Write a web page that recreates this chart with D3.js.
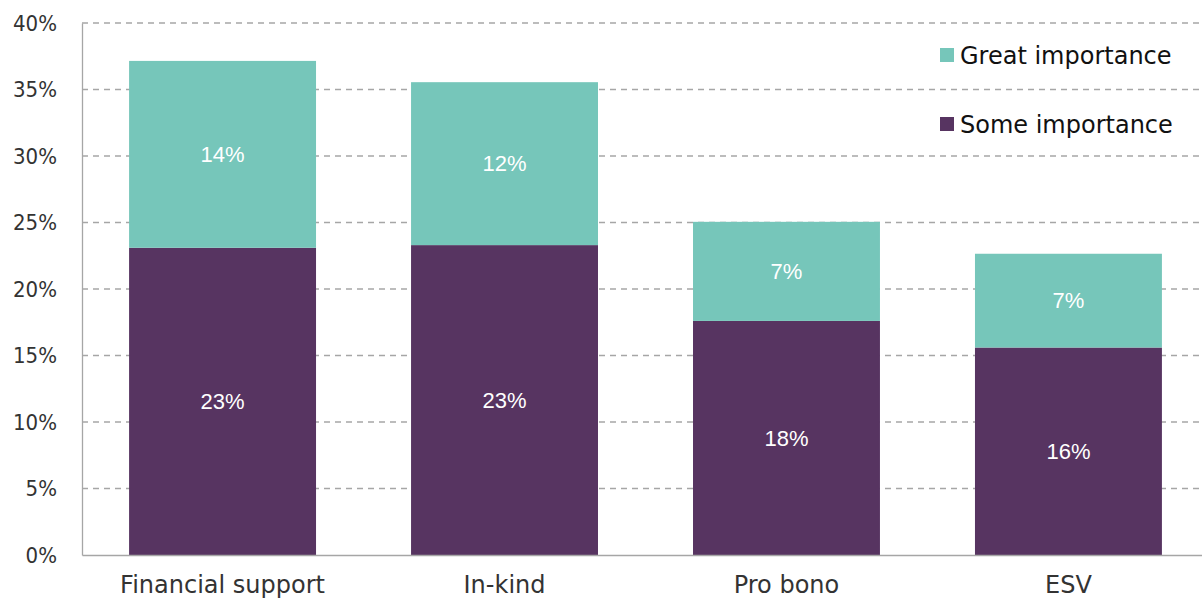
<!DOCTYPE html>
<html>
<head>
<meta charset="utf-8">
<script src="https://cdn.jsdelivr.net/npm/d3@7"></script>
<style>
  body { margin: 0; background: #fff; }
  svg text { font-family: "DejaVu Sans", Verdana, sans-serif; }
</style>
</head>
<body>
<svg id="chart" width="1202" height="603"></svg>
<script>
const categories = ["Financial support", "In-kind", "Pro bono", "ESV"];
const someImportance = [23.1, 23.3, 17.6, 15.6];
const greatImportance = [14.05, 12.25, 7.45, 7.05];
const someLabels = ["23%", "23%", "18%", "16%"];
const greatLabels = ["14%", "12%", "7%", "7%"];
const yTicks = [0, 5, 10, 15, 20, 25, 30, 35, 40];

const svg = d3.select("#chart");
const margin = {top: 23, right: 2, bottom: 48, left: 82};
const width = 1202 - margin.left - margin.right;
const height = 603 - margin.top - margin.bottom;
const colors = {great: "#76c6ba", some: "#573461"};

const g = svg.append("g").attr("transform", `translate(${margin.left},${margin.top})`);

// category band runs a little past the right edge of the frame
const x = d3.scaleBand().domain(categories).range([0, width + 9]).paddingInner(0.337).paddingOuter(0.167);
const y = d3.scaleLinear().domain([0, 40]).range([height, 0]);

// gridlines
g.append("g").selectAll("line")
  .data(yTicks.filter(d => d > 0))
  .join("line")
  .attr("x1", 0).attr("x2", width)
  .attr("y1", d => y(d)).attr("y2", d => y(d))
  .attr("stroke", "#a6a6a6").attr("stroke-width", 1.3)
  .attr("stroke-dasharray", "6,5");

const rows = categories.map((c, i) => ({c, some: someImportance[i], great: greatImportance[i], sl: someLabels[i], gl: greatLabels[i]}));

const bars = g.append("g").selectAll("g").data(rows).join("g");
bars.append("rect")
  .attr("x", d => x(d.c)).attr("width", x.bandwidth())
  .attr("y", d => y(d.some)).attr("height", d => y(0) - y(d.some))
  .attr("fill", colors.some);
bars.append("rect")
  .attr("x", d => x(d.c)).attr("width", x.bandwidth())
  .attr("y", d => y(d.some + d.great)).attr("height", d => y(d.some) - y(d.some + d.great))
  .attr("fill", colors.great);

bars.append("text")
  .attr("x", d => x(d.c) + x.bandwidth() / 2)
  .attr("y", d => y(d.some / 2))
  .attr("dy", "0.35em").attr("text-anchor", "middle")
  .style("font-family", "'Liberation Sans', Arial, sans-serif")
  .style("font-size", "22px").attr("fill", "#fff")
  .text(d => d.sl);
bars.append("text")
  .attr("x", d => x(d.c) + x.bandwidth() / 2)
  .attr("y", d => y(d.some + d.great / 2))
  .attr("dy", "0.35em").attr("text-anchor", "middle")
  .style("font-family", "'Liberation Sans', Arial, sans-serif")
  .style("font-size", "22px").attr("fill", "#fff")
  .text(d => d.gl);

// axes
const yAxis = g.append("g")
  .call(d3.axisLeft(y).tickValues(yTicks).tickFormat(d => d + "%").tickSize(0).tickPadding(25));
yAxis.select(".domain").attr("stroke", "#a6a6a6").attr("stroke-width", 1.3);
yAxis.selectAll("text").style("font-family", "'DejaVu Sans Condensed', 'DejaVu Sans', sans-serif")
  .style("font-size", "22px").attr("fill", "#333");

const xAxis = g.append("g").attr("transform", `translate(0,${height})`)
  .call(d3.axisBottom(x).tickSize(0).tickPadding(21));
xAxis.select(".domain").attr("stroke", "#a6a6a6").attr("stroke-width", 1.3);
xAxis.selectAll("text").style("font-size", "24px").attr("fill", "#333");

// legend
const legendItems = [{k: "Great importance", c: colors.great}, {k: "Some importance", c: colors.some}];
const legend = svg.append("g").selectAll("g").data(legendItems).join("g")
  .attr("transform", (d, i) => `translate(940,${48 + i * 69})`);
legend.append("rect").attr("width", 14).attr("height", 14).attr("fill", d => d.c);
legend.append("text").attr("x", 20).attr("y", 7).attr("dy", "0.36em")
  .style("font-size", "24px").attr("fill", "#111").text(d => d.k);
</script>
</body>
</html>
